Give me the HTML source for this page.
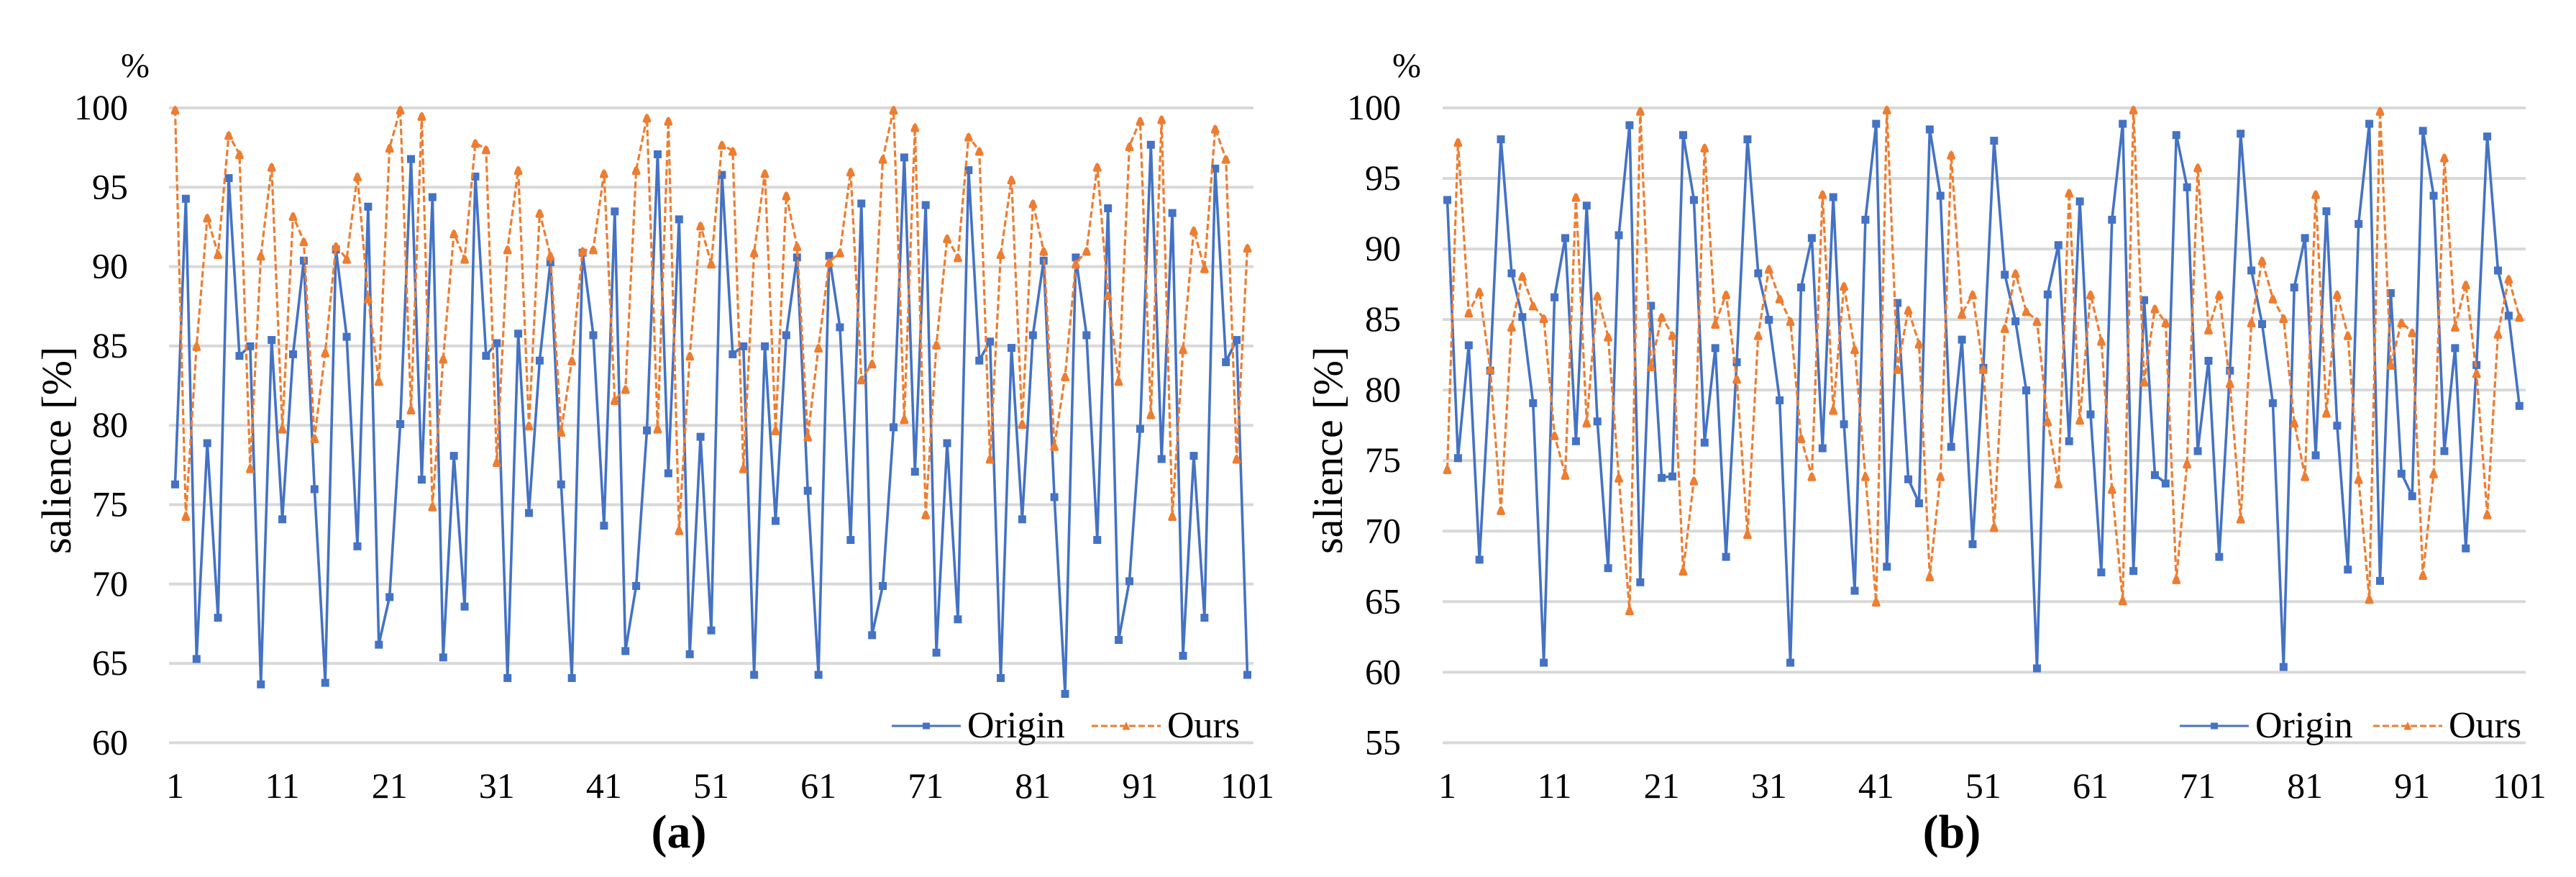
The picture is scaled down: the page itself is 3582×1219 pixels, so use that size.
<!DOCTYPE html>
<html lang="en">
<head>
<meta charset="utf-8">
<title>Salience comparison charts</title>
<style>
html,body{margin:0;padding:0;background:#fff;}
svg{display:block;}
text{font-family:"Liberation Serif",serif;fill:#000;}
</style>
</head>
<body>
<svg id="figure" xmlns="http://www.w3.org/2000/svg" width="3582" height="1219" viewBox="0 0 3582 1219">
  <rect x="0" y="0" width="3582" height="1219" fill="#fff"/>
  <g id="chart-a"></g>
  <g id="chart-b"></g>

  <text x="168" y="107" font-size="48">%</text>
  <text transform="translate(98,770) rotate(-90)" font-size="58">salience [%]</text>
  <text x="944" y="1178" font-size="66" font-weight="bold" text-anchor="middle">(a)</text>

  <text x="1936" y="107" font-size="48">%</text>
  <text transform="translate(1866,770) rotate(-90)" font-size="58">salience [%]</text>
  <text x="2714" y="1178" font-size="66" font-weight="bold" text-anchor="middle">(b)</text>

  <g>
    <g>
      <line x1="1240" y1="1009" x2="1336" y2="1009" stroke="#4472C4" stroke-width="3"/>
      <rect x="1283" y="1004.5" width="10" height="9" fill="#4472C4"/>
      <text x="1345" y="1025" font-size="52">Origin</text>
    </g>
    <g>
      <line x1="1518" y1="1009" x2="1614" y2="1009" stroke="#ED7D31" stroke-width="3" stroke-dasharray="9 4"/>
      <polygon points="1566,1003 1571.5,1014.5 1560.5,1014.5" fill="#ED7D31"/>
      <text x="1623" y="1025" font-size="52">Ours</text>
    </g>
  </g>
  <g>
    <g>
      <line x1="3031" y1="1009" x2="3127" y2="1009" stroke="#4472C4" stroke-width="3"/>
      <rect x="3074" y="1004.5" width="10" height="9" fill="#4472C4"/>
      <text x="3136" y="1025" font-size="52">Origin</text>
    </g>
    <g>
      <line x1="3300" y1="1009" x2="3396" y2="1009" stroke="#ED7D31" stroke-width="3" stroke-dasharray="9 4"/>
      <polygon points="3348,1003 3353.5,1014.5 3342.5,1014.5" fill="#ED7D31"/>
      <text x="3405" y="1025" font-size="52">Ours</text>
    </g>
  </g>
</svg>

<script>
var xTickLabels = [1, 11, 21, 31, 41, 51, 61, 71, 81, 91, 101];
var yTicksA = [60, 65, 70, 75, 80, 85, 90, 95, 100];
var yTicksB = [55, 60, 65, 70, 75, 80, 85, 90, 95, 100];

var originA = [76.3,94.3,65.3,78.9,67.9,95.6,84.4,85.0,63.7,85.4,74.1,84.5,90.4,76.0,63.8,91.1,85.6,72.4,93.8,66.2,69.2,80.1,96.8,76.6,94.4,65.4,78.1,68.6,95.7,84.4,85.2,64.1,85.8,74.5,84.1,90.3,76.3,64.1,90.9,85.7,73.7,93.5,65.8,69.9,79.7,97.1,77.0,93.0,65.6,79.3,67.1,95.8,84.5,85.0,64.3,85.0,74.0,85.7,90.6,75.9,64.3,90.7,86.2,72.8,94.0,66.8,69.9,79.9,96.9,77.1,93.9,65.7,78.9,67.8,96.1,84.1,85.3,64.1,84.9,74.1,85.7,90.4,75.5,63.1,90.6,85.7,72.8,93.7,66.5,70.2,79.8,97.7,77.9,93.4,65.5,78.1,67.9,96.2,84.0,85.4,64.3];
var oursA = [99.9,74.3,85.0,93.1,90.8,98.3,97.1,77.3,90.7,96.3,79.8,93.2,91.6,79.2,84.6,91.3,90.5,95.7,88.0,82.8,97.5,99.9,81.0,99.5,74.9,84.2,92.1,90.5,97.8,97.4,77.7,91.1,96.1,80.0,93.4,90.7,79.6,84.1,91.0,91.1,95.9,81.6,82.3,96.1,99.4,79.8,99.2,73.4,84.4,92.6,90.2,97.7,97.3,77.3,90.9,95.9,79.7,94.5,91.3,79.3,84.9,90.3,90.9,96.0,82.9,83.9,96.8,99.9,80.4,98.8,74.4,85.1,91.8,90.6,98.2,97.3,77.9,90.8,95.5,80.1,94.0,91.0,78.7,83.1,90.2,91.0,96.3,88.2,82.8,97.6,99.2,80.7,99.3,74.3,84.8,92.3,89.9,98.7,96.8,77.9,91.2];
var originB = [93.5,75.2,83.2,68.0,81.4,97.8,88.3,85.2,79.1,60.7,86.6,90.8,76.4,93.1,77.8,67.4,91.0,98.8,66.4,86.0,73.8,73.9,98.1,93.5,76.3,83.0,68.2,82.0,97.8,88.3,85.0,79.3,60.7,87.3,90.8,75.9,93.7,77.6,65.8,92.1,98.9,67.5,86.2,73.7,72.0,98.5,93.8,76.0,83.6,69.1,81.6,97.7,88.2,84.9,80.0,60.3,86.8,90.3,76.4,93.4,78.3,67.1,92.1,98.9,67.2,86.4,74.0,73.4,98.1,94.4,75.7,82.1,68.2,81.4,98.2,88.5,84.7,79.1,60.4,87.3,90.8,75.4,92.7,77.5,67.3,91.8,98.9,66.5,86.9,74.1,72.5,98.4,93.8,75.7,83.0,68.8,81.8,98.0,88.5,85.3,78.9];
var oursB = [74.4,97.6,85.5,87.0,81.5,71.5,84.5,88.1,86.0,85.1,76.8,74.0,93.7,77.7,86.7,83.8,73.8,64.4,99.8,81.7,85.2,83.9,67.2,73.6,97.2,84.7,86.8,80.8,69.8,83.9,88.6,86.5,84.9,76.6,73.9,93.9,78.6,87.4,82.9,73.9,65.0,99.9,81.5,85.7,83.3,66.8,73.9,96.7,85.4,86.8,81.5,70.3,84.4,88.3,85.6,84.9,77.8,73.4,94.0,77.9,86.8,83.5,73.0,65.1,99.9,80.6,85.8,84.8,66.6,74.8,95.8,84.3,86.8,80.5,70.9,84.8,89.2,86.5,85.1,77.7,73.9,93.9,78.4,86.8,83.9,73.7,65.2,99.8,81.8,84.8,84.1,66.9,74.1,96.5,84.5,87.5,81.2,71.2,84.0,87.9,85.2];

var SVG_NS = 'http://www.w3.org/2000/svg';

function makeEl(tag, parent) {
  var el = document.createElementNS(SVG_NS, tag);
  parent.appendChild(el);
  return el;
}

function drawChart(groupId, prefix, layout, yTicks, origin, ours) {
  var group = document.getElementById(groupId);
  var count = origin.length;
  var yMin = yTicks[0];
  var yMax = yTicks[yTicks.length - 1];
  var step = (layout.lastX - layout.firstX) / (count - 1);

  function xScale(index) {
    return layout.firstX + step * index;
  }
  function yScale(value) {
    return layout.bottom - (value - yMin) / (yMax - yMin) * (layout.bottom - layout.top);
  }

  yTicks.forEach(function (tick) {
    var grid = makeEl('line', group);
    
    
    grid.setAttribute('x1', layout.left);
    grid.setAttribute('x2', layout.right);
    grid.setAttribute('y1', yScale(tick));
    grid.setAttribute('y2', yScale(tick));
    grid.setAttribute('stroke', '#D9D9D9');
    grid.setAttribute('stroke-width', '4');

    var label = makeEl('text', group);
    
    
    label.setAttribute('x', layout.tickRight);
    label.setAttribute('y', yScale(tick) + 16);
    label.setAttribute('font-size', '50');
    label.setAttribute('text-anchor', 'end');
    label.textContent = tick;
  });

  xTickLabels.forEach(function (tick) {
    var label = makeEl('text', group);
    
    
    label.setAttribute('x', xScale(tick - 1));
    label.setAttribute('y', 1109);
    label.setAttribute('font-size', '50');
    label.setAttribute('text-anchor', 'middle');
    label.textContent = tick;
  });

  var originLine = makeEl('polyline', group);
  
  
  originLine.setAttribute('points', origin.map(function (v, i) {
    return xScale(i).toFixed(2) + ',' + yScale(v).toFixed(2);
  }).join(' '));
  originLine.setAttribute('fill', 'none');
  originLine.setAttribute('stroke', '#4472C4');
  originLine.setAttribute('stroke-width', '3.6');
  originLine.setAttribute('stroke-linejoin', 'round');

  origin.forEach(function (v, i) {
    var mark = makeEl('rect', group);
    
    
    mark.setAttribute('x', xScale(i) - 5.5);
    mark.setAttribute('y', yScale(v) - 5);
    mark.setAttribute('width', 11);
    mark.setAttribute('height', 11);
    mark.setAttribute('fill', '#4472C4');
  });

  var oursLine = makeEl('polyline', group);
  
  
  oursLine.setAttribute('points', ours.map(function (v, i) {
    return xScale(i).toFixed(2) + ',' + yScale(v).toFixed(2);
  }).join(' '));
  oursLine.setAttribute('fill', 'none');
  oursLine.setAttribute('stroke', '#ED7D31');
  oursLine.setAttribute('stroke-width', '3.2');
  oursLine.setAttribute('stroke-dasharray', '9 4');

  ours.forEach(function (v, i) {
    var cx = xScale(i);
    var cy = yScale(v);
    var mark = makeEl('polygon', group);
    
    
    mark.setAttribute('points',
      cx + ',' + (cy - 5.5) + ' ' +
      (cx + 2.5) + ',' + (cy - 3.5) + ' ' +
      (cx + 6) + ',' + (cy + 5) + ' ' +
      (cx + 5) + ',' + (cy + 7) + ' ' +
      (cx - 5) + ',' + (cy + 7) + ' ' +
      (cx - 6) + ',' + (cy + 5) + ' ' +
      (cx - 2.5) + ',' + (cy - 3.5));
    mark.setAttribute('fill', '#ED7D31');
  });
}

drawChart('chart-a', 'chart-a', {left: 235, right: 1743, firstX: 243.5, lastX: 1734.5, top: 150, bottom: 1032.4, tickRight: 178}, yTicksA, originA, oursA);
drawChart('chart-b', 'chart-b', {left: 2006, right: 3512, firstX: 2012.5, lastX: 3503.3, top: 150, bottom: 1032.4, tickRight: 1948}, yTicksB, originB, oursB);
</script>
</body>
</html>
